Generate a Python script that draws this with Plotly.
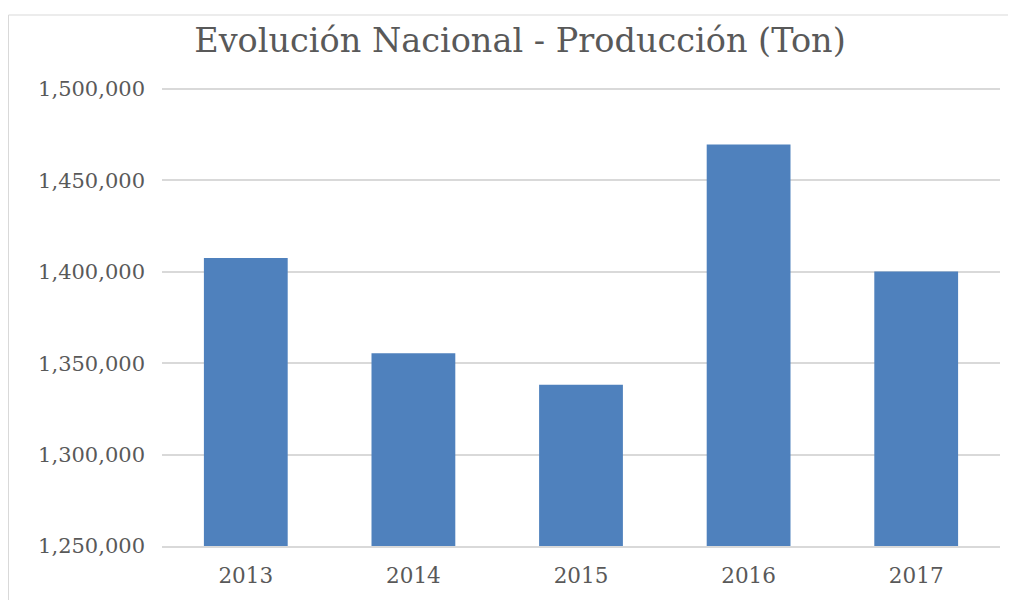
import plotly.graph_objects as go

years = ["2013", "2014", "2015", "2016", "2017"]
produccion = [1407600, 1355500, 1338200, 1469700, 1400100]
y_ticks = [1250000, 1300000, 1350000, 1400000, 1450000, 1500000]
y_tick_labels = ["1,250,000", "1,300,000", "1,350,000", "1,400,000", "1,450,000", "1,500,000"]

# page has an 8px body margin, so the figure is sized to fit the window
W, H = 1000, 592
L, R, T, B = 154, 8, 77, 54
pw, ph = W - L - R, H - T - B
y_lo, y_hi = 1250000, 1500000
pad = 4 * (y_hi - y_lo) / 457.0

FONT = "DejaVu Serif"
TXT = "#595959"
GRID = "#D9D9D9"

fig = go.Figure(go.Bar(
    x=years, y=produccion, marker=dict(color="#4F81BD", line=dict(width=0)),
    hoverinfo="x+y",
))

fig.update_layout(
    width=W, height=H,
    margin=dict(l=L, r=R, t=T, b=B, pad=0),
    paper_bgcolor="white", plot_bgcolor="white",
    bargap=0.5,
    showlegend=False,
    title=dict(text="Evolución Nacional - Producción (Ton)", x=512 / W, xanchor="center",
               xref="container", y=1 - 32 / H, yanchor="middle",
               font=dict(family=FONT, size=33.5, color=TXT)),
    font=dict(family=FONT, color=TXT),
    xaxis=dict(showgrid=False, showline=True, linecolor=GRID, linewidth=2, ticks="",
               tickfont=dict(size=21.5, color=TXT), ticklabelstandoff=9),
    yaxis=dict(range=[y_lo, y_hi + pad], tickvals=y_ticks, ticktext=y_tick_labels,
               showgrid=True, gridcolor=GRID, gridwidth=2, zeroline=False,
               showline=False, ticks="", tickfont=dict(size=21, color=TXT),
               ticklabelstandoff=16),
    shapes=[dict(type="rect", xref="paper", yref="paper",
                 x0=(0.5 - L) / pw, x1=(W + 20 - L) / pw,
                 y0=-(B + 20) / ph, y1=(H - B - 7) / ph,
                 line=dict(color=GRID, width=1), layer="below")],
)

fig.write_html("out.html")
